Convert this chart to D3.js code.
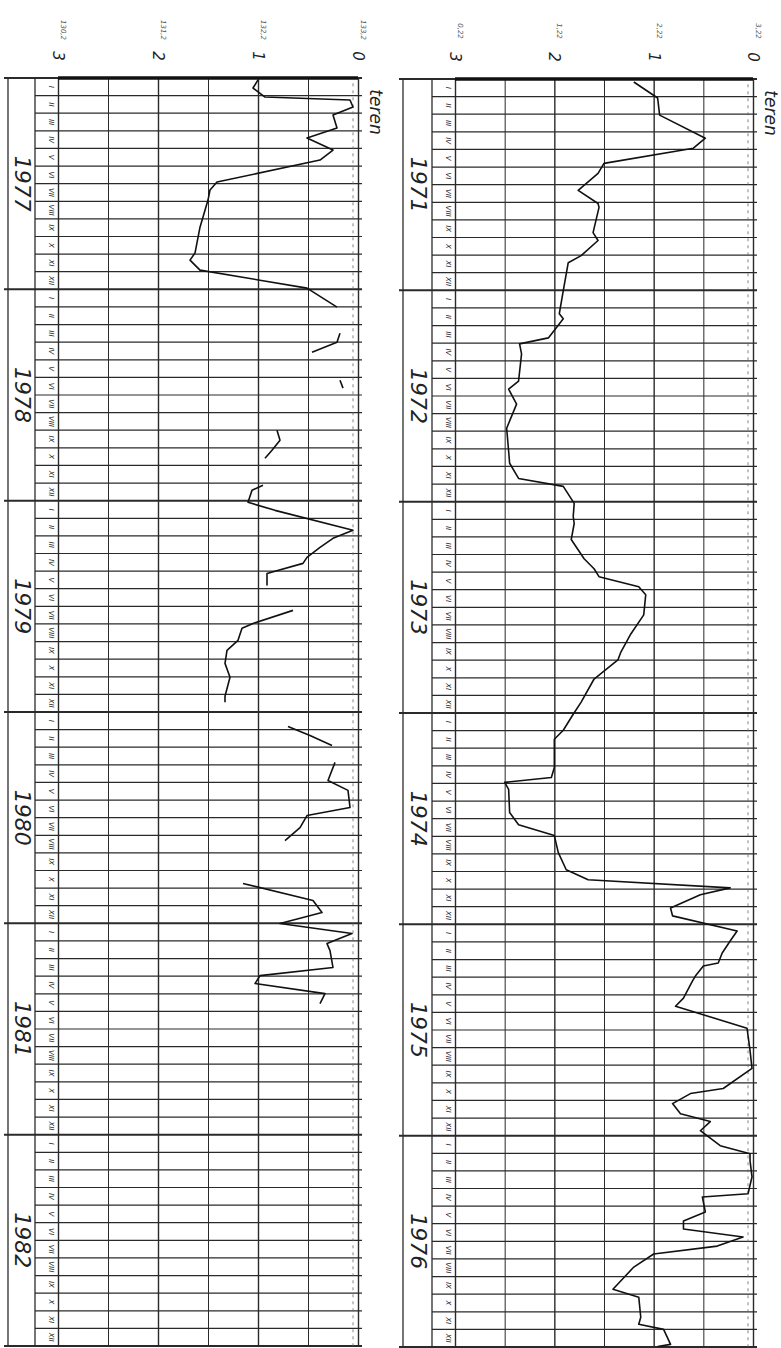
<!DOCTYPE html>
<html>
<head>
<meta charset="utf-8">
<script src="https://cdn.jsdelivr.net/npm/d3@7/dist/d3.min.js"></script>
<style>
  body { margin: 0; background: #fff; }
  text { font-family: "DejaVu Sans", sans-serif; fill: #222; }
  .year { font-size: 22px; font-style: italic; font-weight: 300; }
  .month { font-size: 7px; font-style: italic; }
  .tick-label { font-size: 15px; font-style: italic; }
  .level-label { font-size: 7px; font-style: italic; fill: #555; }
  .teren { font-size: 17px; font-style: italic; }
</style>
</head>
<body>
<svg id="chart" width="781" height="1348"></svg>
<script>
// --- data (depth to water table, m; time in months from Jan of the first year) ---
const yearsLeft = [1977, 1978, 1979, 1980, 1981, 1982];
const yearsRight = [1971, 1972, 1973, 1974, 1975, 1976];
const monthLabels = ["I", "II", "III", "IV", "V", "VI", "VII", "VIII", "IX", "X", "XI", "XII"];
const depthTicks = [0, 1, 2, 3];
const gridTicks = [0, 0.5, 1, 1.5, 2, 2.5, 3];
const levelLabelsLeft = ["133,2", "132,2", "131,2", "130,2"];
const levelLabelsRight = ["3,22", "2,22", "1,22", "0,22"];

// left panel 1977-1982, null = break in the record
const leftMonths = [
  0.11, 0.57, 1.08, 1.25, 1.65, 2.10, 2.84, 3.41, 4.09, 4.66, 5.91, 6.36, 6.93, 8.47, 9.94, 10.34, 10.91, 11.93, 13.01, null,
  14.49, 15.00, 15.57, null,
  17.16, 17.61, null,
  20.00, 20.57, 21.14, 21.59, null,
  23.13, 23.41, 24.09, 24.55, 25.68, 26.14, 26.65, 27.22, 27.56, 28.13, 28.81, null,
  30.23, 30.97, 31.25, 31.93, 32.50, 33.24, 34.03, 35.11, 35.45, null,
  36.82, 37.33, 37.90, null,
  38.86, 39.89, 40.45, 41.42, 41.88, 42.56, 43.30, null,
  45.74, 46.70, 47.39, 48.01, 48.58, 49.15, 49.55, 50.51, 50.97, 51.42, 51.99, 52.56
];
const leftDepth = [
  1.00, 1.05, 0.93, 0.08, 0.05, 0.25, 0.21, 0.51, 0.25, 0.38, 1.41, 1.48, 1.50, 1.58, 1.63, 1.68, 1.58, 0.51, 0.21, null,
  0.18, 0.21, 0.46, null,
  0.18, 0.15, null,
  0.81, 0.78, 0.86, 0.93, null,
  0.95, 1.06, 1.10, 0.83, 0.05, 0.25, 0.38, 0.51, 0.55, 0.91, 0.91, null,
  0.65, 1.05, 1.16, 1.20, 1.31, 1.33, 1.28, 1.33, 1.33, null,
  0.70, 0.48, 0.26, null,
  0.23, 0.30, 0.10, 0.08, 0.51, 0.58, 0.73, null,
  1.15, 0.45, 0.36, 0.78, 0.06, 0.31, 0.28, 0.25, 0.98, 1.03, 0.33, 0.38
];

// right panel 1971-1976
const rightMonths = [
  0.17, 1.08, 2.05, 3.36, 3.93, 4.79, 5.36, 6.32, 7.07, 7.29, 8.72, 9.17, 10.03, 10.43, 12.02, 13.33, 13.62, 14.70,
  15.04, 15.61, 17.15, 17.61, 18.46, 19.83, 21.14, 21.82, 22.68, 23.13, 24.10, 24.84, 25.24, 26.15, 27.24, 27.81,
  28.26, 28.83, 29.29, 30.43, 31.51, 32.54, 32.99, 34.07, 35.38, 36.07, 36.98, 37.49, 39.09, 39.66, 39.94, 40.34,
  41.65, 42.34, 42.96, 43.93, 44.90, 45.47, 45.93, 46.32, 47.07, 47.52, 48.38, 48.95, 49.63, 50.20, 50.37, 50.94,
  51.23, 52.19, 52.65, 53.90, 55.16, 56.18, 57.32, 57.61, 58.18, 58.75, 59.20, 59.72, 60.57, 61.03, 61.42, 62.34,
  63.30, 63.48, 64.33, 64.84, 65.30, 65.75, 66.27, 66.72, 67.46, 68.72, 69.17, 70.31, 70.71, 71.00, 71.85, 71.97
];
const rightDepth = [
  1.20, 0.96, 0.94, 0.48, 0.60, 1.50, 1.56, 1.76, 1.56, 1.55, 1.61, 1.56, 1.73, 1.86, 1.91, 1.95, 1.91, 2.06,
  2.35, 2.33, 2.36, 2.46, 2.38, 2.48, 2.46, 2.45, 2.36, 1.91, 1.80, 1.81, 1.80, 1.83, 1.70, 1.60,
  1.55, 1.15, 1.08, 1.10, 1.23, 1.33, 1.36, 1.60, 1.73, 1.81, 1.91, 2.00, 2.00, 2.03, 2.50, 2.46,
  2.45, 2.36, 2.00, 1.96, 1.88, 1.66, 0.23, 0.53, 0.83, 0.81, 0.16, 0.23, 0.31, 0.35, 0.50, 0.58,
  0.61, 0.70, 0.78, 0.06, 0.03, 0.01, 0.30, 0.63, 0.81, 0.73, 0.43, 0.53, 0.33, 0.03, 0.03, 0.01,
  0.05, 0.51, 0.48, 0.70, 0.70, 0.10, 0.36, 1.00, 1.20, 1.41, 1.15, 1.13, 1.15, 0.90, 0.83, 0.96
];

const svg = d3.select("#chart");

function drawPanel(cfg) {
  const g = svg.append("g");
  const x = d3.scaleLinear().domain([3, 0]).range([cfg.plotLeft, cfg.plotRight]);
  const y = d3.scaleLinear().domain([0, 72]).range([cfg.top, cfg.bottom]);
  const ink = "#2a2a2a";

  // vertical grid (every 0.5 m)
  g.append("g")
    .attr("transform", `translate(0, ${cfg.top})`)
    .call(d3.axisTop(x).tickValues(gridTicks).tickSize(-(cfg.bottom - cfg.top)).tickFormat(""))
    .call(a => a.select(".domain").remove())
    .call(a => a.selectAll(".tick line")
      .attr("stroke", ink)
      .attr("stroke-width", d => (d % 1 === 0 ? 1.4 : 1)));

  // month rows
  const months = d3.range(0, 73);
  g.append("g").selectAll("line")
    .data(months)
    .join("line")
    .attr("x1", d => (d % 12 === 0 ? cfg.yearLeft - 4 : cfg.monthLeft))
    .attr("x2", cfg.plotRight + 4)
    .attr("y1", d => y(d))
    .attr("y2", d => y(d))
    .attr("stroke", ink)
    .attr("stroke-width", d => (d % 12 === 0 ? 2 : 1.2));

  // thick top line
  g.append("line")
    .attr("x1", x(3)).attr("x2", x(0))
    .attr("y1", y(0)).attr("y2", y(0))
    .attr("stroke", "#111").attr("stroke-width", 3.5);

  // column borders
  [cfg.yearLeft, cfg.monthLeft].forEach(cx => {
    g.append("line")
      .attr("x1", cx).attr("x2", cx)
      .attr("y1", y(0)).attr("y2", y(72))
      .attr("stroke", ink).attr("stroke-width", 1.3);
  });

  // dashed field-reference line near zero
  g.append("line")
    .attr("x1", x(0.05)).attr("x2", x(0.05))
    .attr("y1", y(0.3)).attr("y2", y(72))
    .attr("stroke", "#666").attr("stroke-width", 0.8)
    .attr("stroke-dasharray", "3 4");

  // month labels
  g.append("g").selectAll("text")
    .data(months.slice(0, 72))
    .join("text")
    .attr("class", "month")
    .attr("text-anchor", "middle")
    .attr("transform", d => `translate(${(cfg.monthLeft + cfg.plotLeft) / 2 + 2}, ${y(d + 0.5)}) rotate(90)`)
    .text(d => monthLabels[d % 12]);

  // year labels
  g.append("g").selectAll("text")
    .data(cfg.years)
    .join("text")
    .attr("class", "year")
    .attr("text-anchor", "middle")
    .attr("transform", (d, i) => `translate(${(cfg.yearLeft + cfg.monthLeft) / 2 - 7}, ${y(i * 12 + 6)}) rotate(90)`)
    .text(d => d);

  // depth labels on top
  g.append("g").selectAll("text")
    .data(depthTicks)
    .join("text")
    .attr("class", "tick-label")
    .attr("text-anchor", "middle")
    .attr("transform", d => `translate(${x(d) - 5}, ${cfg.top - 22}) rotate(90)`)
    .text(d => d);

  g.append("g").selectAll("text")
    .data(depthTicks)
    .join("text")
    .attr("class", "level-label")
    .attr("text-anchor", "middle")
    .attr("transform", d => `translate(${x(d) + 3}, ${cfg.top - 48}) rotate(90)`)
    .text((d, i) => cfg.levels[i]);

  g.append("text")
    .attr("class", "teren")
    .attr("transform", `translate(${x(0) + 12}, ${y(0) + 34}) rotate(90)`)
    .attr("text-anchor", "middle")
    .text("teren");

  // the groundwater line
  const line = d3.line()
    .defined(i => cfg.depth[i] !== null)
    .x(i => x(cfg.depth[i]))
    .y(i => y(cfg.months[i]));
  g.append("path")
    .datum(d3.range(cfg.depth.length))
    .attr("d", line)
    .attr("fill", "none")
    .attr("stroke", "#111")
    .attr("stroke-width", 1.6)
    .attr("stroke-linejoin", "round");
}

drawPanel({ years: yearsLeft, months: leftMonths, depth: leftDepth, levels: levelLabelsLeft,
  yearLeft: 8, monthLeft: 35, plotLeft: 58, plotRight: 358, top: 78, bottom: 1346 });
drawPanel({ years: yearsRight, months: rightMonths, depth: rightDepth, levels: levelLabelsRight,
  yearLeft: 403, monthLeft: 432, plotLeft: 455, plotRight: 753, top: 79, bottom: 1347 });
</script>
</body>
</html>
